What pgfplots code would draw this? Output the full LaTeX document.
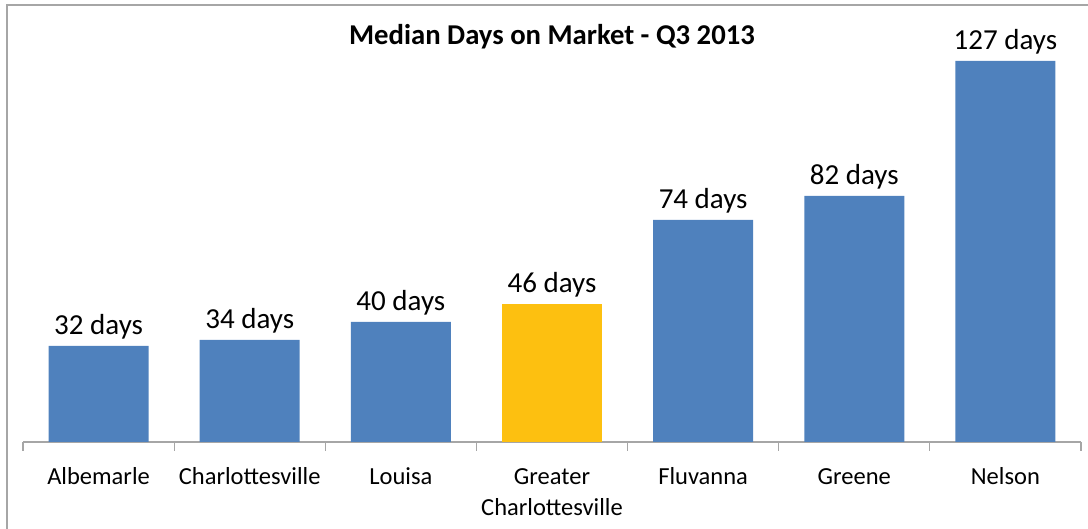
\documentclass[border=0pt]{standalone}
\usepackage{pgfplots}
\pgfplotsset{compat=1.18}
\usepackage{fontspec}
\setmainfont{Carlito}
\definecolor{barblue}{HTML}{4F81BD}
\definecolor{bargold}{HTML}{FDC010}
\definecolor{framegray}{HTML}{A6A6A6}
\begin{document}
\begin{tikzpicture}[x=1pt,y=1pt]
\path[use as bounding box] (0,0) rectangle (1088,529);
\draw[framegray, line width=1.5pt] (7,-2) -- (7,524) -- (1090,524);
\node[font=\fontsize{28.7}{34}\selectfont\bfseries] at (552,492) {Median Days on Market - Q3 2013};
\begin{axis}[
  at={(23pt,87pt)}, anchor=south west,
  scale only axis, width=1058pt, height=420pt,
  xmin=-0.5, xmax=6.5, ymin=0, ymax=140,
  axis x line=bottom, axis y line=none,
  x axis line style={-, draw=framegray, line width=1.2pt},
  ytick=\empty,
  xtick={0,...,6},
  xticklabels={\strut Albemarle, \strut Charlottesville, \strut Louisa, {\strut Greater\\\strut Charlottesville}, \strut Fluvanna, \strut Greene, \strut Nelson},
  xticklabel style={align=center, font=\fontsize{24.5}{31}\selectfont, text=black, anchor=north, yshift=-17pt},
  major tick length=0pt,
  minor xtick={-0.5,0.5,...,6.5},
  minor tick length=9pt,
  tick align=outside,
  minor tick style={draw=framegray, line width=1.2pt},
  ybar, bar width=100pt, bar shift=0pt,
  clip=false,
  /pgf/number format/assume math mode=true,
  nodes near coords={\pgfmathprintnumber{\pgfplotspointmeta} days},
  every node near coord/.append style={font=\fontsize{29}{34}\selectfont, text=black, yshift=3.5pt},
]
\addplot[fill=barblue, draw=none] coordinates {(0,32) (1,34) (2,40) (4,74) (5,82) (6,127)};
\addplot[fill=bargold, draw=none] coordinates {(3,46)};
\end{axis}
\end{tikzpicture}
\end{document}
